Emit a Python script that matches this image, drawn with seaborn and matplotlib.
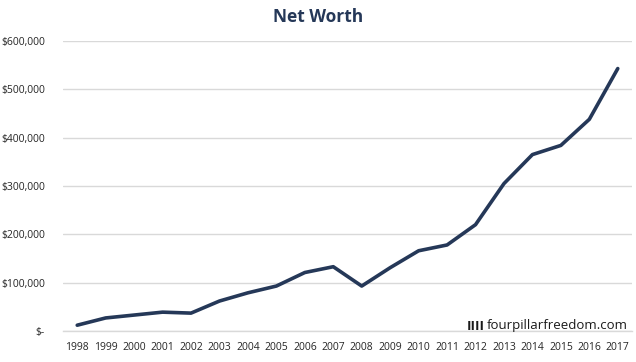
import numpy as np
import pandas as pd
import matplotlib
matplotlib.use("Agg")
import matplotlib.pyplot as plt
import seaborn as sns
from matplotlib.ticker import FuncFormatter

# values
years = [str(y) for y in range(1998, 2018)]
net_worth = [12000, 27000, 33000, 39000, 37000, 62000, 79000, 93000, 121000, 133000,
             93000, 131000, 166000, 178000, 220000, 305000, 365000, 384000, 438000, 543000]
y_ticks = [0, 100000, 200000, 300000, 400000, 500000, 600000]

df = pd.DataFrame({"year": years, "net_worth": net_worth})

sns.set_style("white")
plt.rcParams["font.family"] = ["Open Sans", "DejaVu Sans"]

line_color = "#253858"

fig = plt.figure(figsize=(6.36, 3.62), dpi=100)
ax = fig.add_axes([63 / 636, 1 - 331 / 362, (632 - 63) / 636, (331 - 41) / 362])

sns.lineplot(data=df, x="year", y="net_worth", ax=ax, color=line_color, linewidth=2.6,
             sort=False)

ax.set_xlim(-0.5, len(years) - 0.5)
ax.set_ylim(0, 600000)
ax.set_yticks(y_ticks)

def money(v, pos):
    if v == 0:
        return "$-"
    return f"${v:,.0f}"

ax.yaxis.set_major_formatter(FuncFormatter(money))
ax.yaxis.grid(True, color="#d9d9d9", linewidth=1)
ax.set_axisbelow(True)

# Excel style: tick marks between categories
ax.set_xticks(np.arange(-0.5, len(years), 1), minor=True)
ax.tick_params(axis="x", which="minor", length=5, color="#d9d9d9", width=1)
ax.tick_params(axis="x", which="major", length=0, pad=8)
ax.tick_params(axis="y", length=0, pad=13)
ax.tick_params(labelsize=7.5, labelcolor="#262626")

for side in ["left", "right", "top"]:
    ax.spines[side].set_visible(False)
ax.spines["bottom"].set_color("#d9d9d9")
ax.spines["bottom"].set_linewidth(1)

ax.set_xlabel("")
ax.set_ylabel("")

fig.text(0.5, 1 - 17 / 362, "Net Worth", ha="center", va="center",
         fontsize=12.5, fontweight="bold", color="#253858")

# watermark
fig.text(487 / 636, 1 - 326 / 362, "fourpillarfreedom.com", ha="left", va="center",
         fontsize=9.5, color="#1a1a1a")
fig.text(485 / 636, 1 - 326 / 362, "IIII", ha="right", va="center",
         fontsize=9.5, fontweight="bold", color="#1a1a1a")

fig.savefig("out.png", dpi=100)
